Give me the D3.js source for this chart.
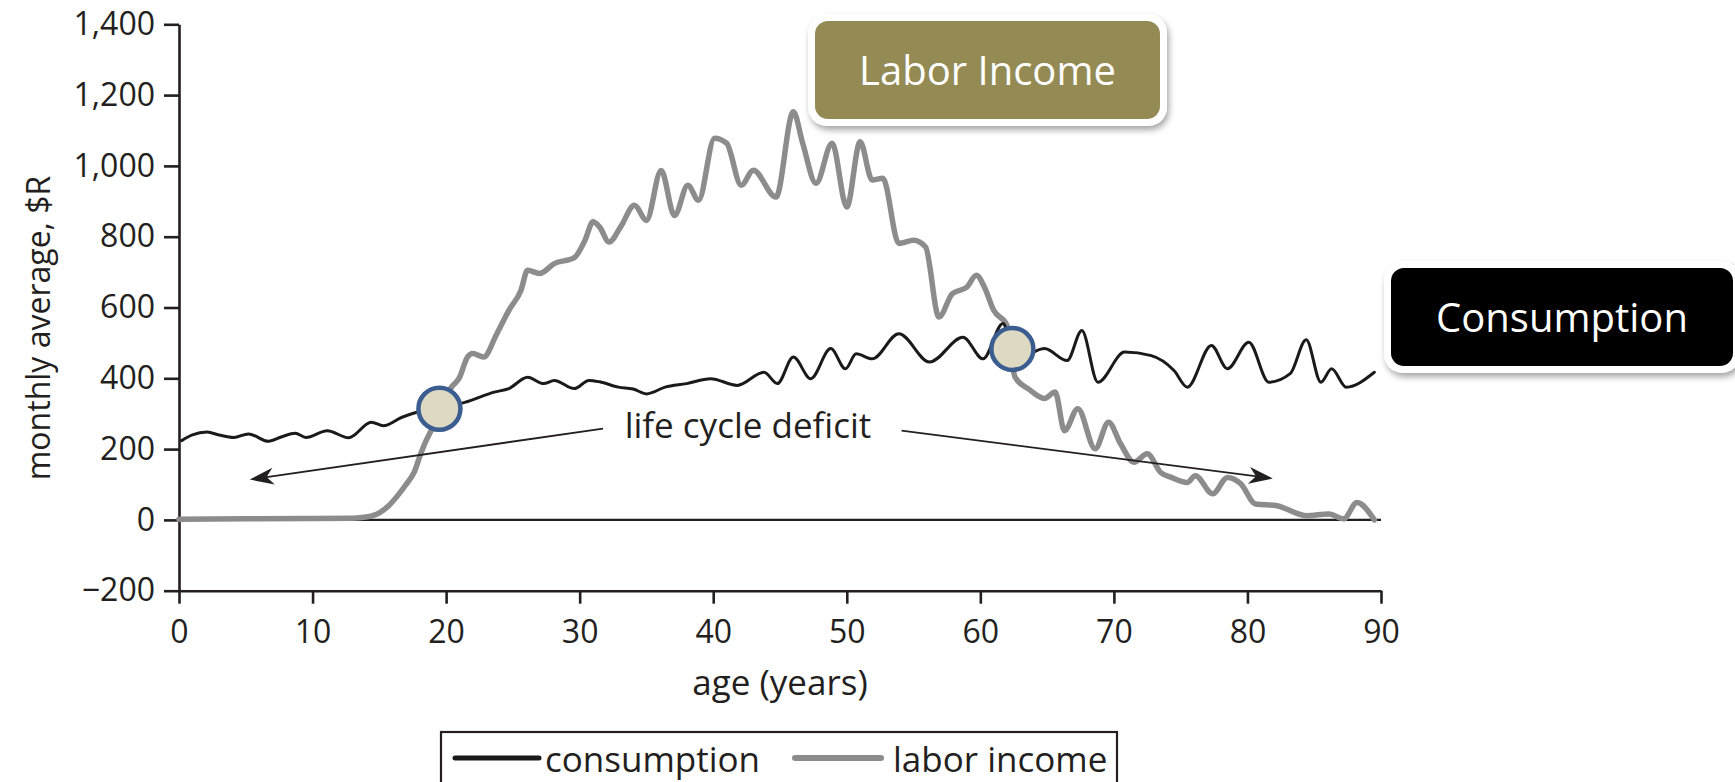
<!DOCTYPE html>
<html><head><meta charset="utf-8">
<script src="https://cdn.jsdelivr.net/npm/d3@7"></script>
<style>
body{margin:0;background:#fff}
svg{display:block}
text{font-family:"Open Sans",sans-serif;fill:#231f20}
</style>
</head><body>
<svg id="chart" width="1735" height="782"></svg>
<script>
// ---- data ----
const laborAge = [0,5,10,13,14,15,15.7,16.4,17,17.6,18.1,18.4,19.0,19.8,20.4,21.0,21.6,22.0,22.8,23.8,24.7,25.6,26.1,27.0,28.1,29.6,30.4,31.0,31.5,32.2,33.1,34.1,35.0,36.1,37.1,38.1,38.9,40.1,41.0,42.1,43.0,44.7,46.0,46.7,47.7,48.9,50.0,51.0,51.9,52.7,53.9,55.0,55.9,56.9,57.9,59.0,59.7,60.3,61.0,62.0,62.6,63.6,64.8,65.6,66.3,67.3,68.6,69.6,70.5,71.5,72.5,73.5,74.3,75.5,76.1,77.4,78.5,79.5,80.6,82.2,84.4,86.1,87.2,88.2,89.5];
const laborVal = [2,3,4,5,8,20,40,70,100,134,187,215,262,337,375,402,460,470,460,526,592,648,705,696,724,741,790,842,827,785,830,889,846,987,860,945,903,1078,1064,945,988,912,1153,1064,951,1064,884,1068,960,965,781,790,771,573,639,658,691,658,592,549,403,370,343,361,252,314,201,276,215,163,187,134,120,106,125,74,120,102,45,40,12,17,3,49,0];
const consAge = [0.2,1.0,2.1,3.0,4.1,5.2,6.7,7.7,8.7,9.5,11.1,12.7,14.4,15.3,16.7,17.8,19.5,21.4,23.6,24.7,26.1,27.3,28.1,29.6,30.7,31.5,32.9,34.0,35.0,36.4,38.0,39.8,41.8,43.8,44.8,46.0,47.3,48.8,49.9,50.7,51.9,53.9,56.2,58.7,60.2,61.7,62.4,63.5,64.8,66.5,67.6,68.8,70.8,72.8,74.5,75.5,77.3,78.5,80.1,81.6,83.2,84.4,85.5,86.3,87.4,89.5];
const consVal = [224,240,248,240,233,243,222,235,245,233,252,232,276,266,290,304,318,332,361,371,403,385,394,371,394,390,375,370,356,375,385,399,380,417,385,460,399,484,427,469,455,526,446,516,455,555,483,470,484,450,535,389,474,464,422,375,493,427,502,389,413,509,389,427,375,417];

const xTicks = [0,10,20,30,40,50,60,70,80,90];
const yTicks = [-200,0,200,400,600,800,1000,1200,1400];
const seriesNames = ["consumption","labor income"];

// annotation points (age, value)
const deficitPoints = [[19.5,314],[62.4,483]];
const arrowsFromTo = [[[31.75,258],[5.3,114]],[[54.1,252],[81.9,117]]];
const deficitLabel = {text:"life cycle deficit", age:42.6, value:230};

// ---- layout ----
const svg = d3.select("#chart");
const x = d3.scaleLinear().domain([0,90]).range([179,1381]);
const y = d3.scaleLinear().domain([-200,1400]).range([590.7,24.3]);
const ink = "#231f20";

const defs = svg.append("defs");
const f = defs.append("filter").attr("id","shadow").attr("x","-10%").attr("y","-15%").attr("width","125%").attr("height","140%");
f.append("feDropShadow").attr("dx",2).attr("dy",4).attr("stdDeviation",3).attr("flood-color","#000").attr("flood-opacity",0.35);

// zero line
svg.append("line").attr("x1",x(0)).attr("x2",x(90)).attr("y1",y(0)).attr("y2",y(0))
  .attr("stroke",ink).attr("stroke-width",2.2);

// axes
const yAxis = svg.append("g").attr("transform",`translate(${x(0)},0)`)
  .call(d3.axisLeft(y).tickValues(yTicks).tickFormat(d3.format(",")).tickSize(15).tickSizeOuter(0).tickPadding(9));
const xAxis = svg.append("g").attr("transform",`translate(0,${y(-200)})`)
  .call(d3.axisBottom(x).tickValues(xTicks).tickFormat(d3.format("d")).tickSize(13).tickSizeOuter(0).tickPadding(17));
[yAxis,xAxis].forEach(g=>{
  g.select(".domain").attr("stroke",ink).attr("stroke-width",2.6);
  g.selectAll(".tick line").attr("stroke",ink).attr("stroke-width",2.6);
  g.selectAll(".tick text").attr("fill",ink).style("font-size","32px").style("font-family","'Open Sans',sans-serif");
});

// axis titles
svg.append("text").attr("x",(x(0)+x(90))/2).attr("y",695).attr("text-anchor","middle")
  .style("font-size","35px").text("age (years)");
svg.append("text").attr("transform","translate(50,328) rotate(-90)").attr("text-anchor","middle")
  .style("font-size","32px").text("monthly average, $R");

// lines
const line = d3.line().x(d=>x(d[0])).y(d=>y(d[1])).curve(d3.curveMonotoneX);
const labor = d3.zip(laborAge, laborVal);
const cons = d3.zip(consAge, consVal);
svg.append("path").datum(labor).attr("d",line).attr("fill","none")
  .attr("stroke","#8c8c8c").attr("stroke-width",5.5).attr("stroke-linejoin","round").attr("stroke-linecap","round");
svg.append("path").datum(cons).attr("d",line).attr("fill","none")
  .attr("stroke","#1a1a1a").attr("stroke-width",3).attr("stroke-linejoin","round").attr("stroke-linecap","round");

// arrows
function arrow(p0,p1){
  const [x0,y0]=[x(p0[0]),y(p0[1])],[x1,y1]=[x(p1[0]),y(p1[1])];
  const dx=x1-x0, dy=y1-y0, L=Math.hypot(dx,dy), ux=dx/L, uy=dy/L, nx=-uy, ny=ux;
  const len=24, hw=8.5, notch=7;
  svg.append("line").attr("x1",x0).attr("y1",y0).attr("x2",x1-ux*10).attr("y2",y1-uy*10)
    .attr("stroke",ink).attr("stroke-width",1.8);
  const bx=x1-ux*len, by=y1-uy*len;
  const pts=[[x1,y1],[bx+nx*hw,by+ny*hw],[x1-ux*(len-notch),y1-uy*(len-notch)],[bx-nx*hw,by-ny*hw]];
  svg.append("path").attr("d","M"+pts.map(p=>p.join(",")).join("L")+"Z").attr("fill",ink);
}
arrowsFromTo.forEach(a=>arrow(a[0],a[1]));
svg.append("text").attr("x",x(deficitLabel.age)).attr("y",y(deficitLabel.value)).attr("text-anchor","middle")
  .style("font-size","35px").text(deficitLabel.text);

// deficit circles
svg.selectAll("circle.pt").data(deficitPoints).join("circle").attr("class","pt")
  .attr("cx",d=>x(d[0])).attr("cy",d=>y(d[1])).attr("r",21)
  .attr("fill","#ddd9c3").attr("stroke","#3b5d8f").attr("stroke-width",4.5);

// callout boxes
function callout(bx,by,w,h,fill,label){
  svg.append("rect").attr("x",bx-7).attr("y",by-7).attr("width",w+14).attr("height",h+14).attr("rx",19)
    .attr("fill","#fff").attr("filter","url(#shadow)");
  svg.append("rect").attr("x",bx).attr("y",by).attr("width",w).attr("height",h).attr("rx",13).attr("fill",fill);
  svg.append("text").attr("x",bx+w/2).attr("y",by+h/2+15).attr("text-anchor","middle")
    .style("font-size","40px").style("fill","#fff").text(label);
}
callout(815,21,345,98,"#948a54","Labor Income");
callout(1391,268,342,98,"#000","Consumption");

// legend
const lg = svg.append("g");
lg.append("rect").attr("x",441).attr("y",732).attr("width",676).attr("height",90)
  .attr("fill","none").attr("stroke",ink).attr("stroke-width",2.2);
const legendItems = [
  {name:seriesNames[0], x1:455, x2:539, tx:545, color:"#1a1a1a", w:5},
  {name:seriesNames[1], x1:795, x2:881, tx:893, color:"#8c8c8c", w:6}
];
legendItems.forEach(it=>{
  lg.append("line").attr("x1",it.x1).attr("x2",it.x2).attr("y1",758).attr("y2",758)
    .attr("stroke",it.color).attr("stroke-width",it.w).attr("stroke-linecap","round");
  lg.append("text").attr("x",it.tx).attr("y",772).style("font-size","35px").text(it.name);
});
</script>
</body></html>
